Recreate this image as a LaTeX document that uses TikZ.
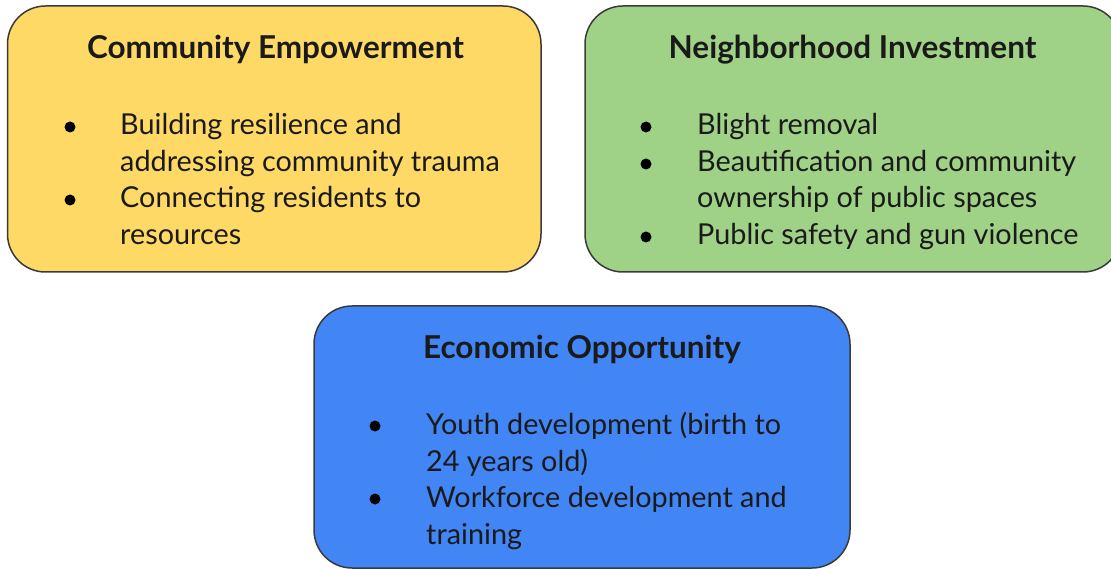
\documentclass[tikz,border=0pt]{standalone}
\usepackage{fontspec}
\setmainfont{Lato}
\definecolor{yel}{HTML}{FFD966}
\definecolor{grn}{HTML}{9FD286}
\definecolor{blu}{HTML}{4285F4}
\definecolor{edge}{HTML}{3A3A3A}
\definecolor{ink}{HTML}{1A1A1A}
\tikzset{
  card/.style={draw=edge, line width=1.5pt, rounded corners=38pt, inner sep=0pt},
  head/.style={anchor=base, inner sep=0pt, text=ink, font=\fontsize{31.5}{36}\selectfont\bfseries},
  item/.style={anchor=base west, inner sep=0pt, text=ink, font=\fontsize{28.8}{34}\selectfont},
  bul/.style={circle, fill=black, inner sep=0pt, minimum size=11pt},
}
\begin{document}
\begin{tikzpicture}[x=1pt,y=-1pt]
\useasboundingbox (0,0) rectangle (1111,569);
% cards
\node[card, fill=yel, minimum width=533.5pt, minimum height=266pt] (ce) at (274.25,139) {};
\node[card, fill=grn, minimum width=536pt, minimum height=266pt] (ni) at (853,139) {};
\node[card, fill=blu, minimum width=536pt, minimum height=262pt] (eo) at (582,437) {};
% Community Empowerment
\node[head] (ceh) at (275.5,59) {Community Empowerment};
\node[bul] (ceb1) at (70,127) {};
\node[item] (ce1) at (120,135) {Building resilience and};
\node[item] (ce2) at (120,172) {addressing community trauma};
\node[bul] (ceb2) at (70,200) {};
\node[item] (ce3) at (120,208) {Connecting residents to};
\node[item] (ce4) at (120,245) {resources};
% Neighborhood Investment
\node[head] (nih) at (852.5,59) {Neighborhood Investment};
\node[bul] (nib1) at (646,127) {};
\node[item] (ni1) at (697,135) {Blight removal};
\node[bul] (nib2) at (646,164) {};
\node[item] (ni2) at (697,172) {Beautification and community};
\node[item] (ni3) at (697,208) {ownership of public spaces};
\node[bul] (nib3) at (646,237) {};
\node[item] (ni4) at (697,245) {Public safety and gun violence};
% Economic Opportunity
\node[head] (eoh) at (582,359) {Economic Opportunity};
\node[bul] (eob1) at (375,426) {};
\node[item] (eo1) at (426,434) {Youth development (birth to};
\node[item] (eo2) at (426,471) {24 years old)};
\node[bul] (eob2) at (375,499) {};
\node[item] (eo3) at (426,507) {Workforce development and};
\node[item] (eo4) at (426,544) {training};
\end{tikzpicture}
\end{document}
